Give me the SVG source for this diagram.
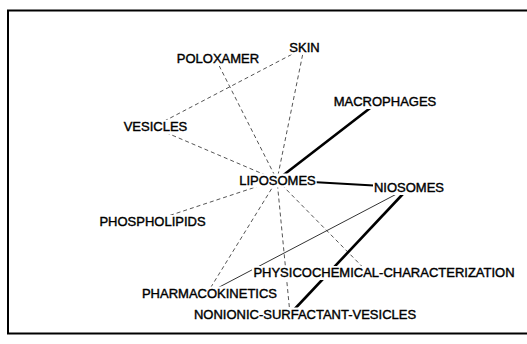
<svg xmlns="http://www.w3.org/2000/svg" width="527" height="344" viewBox="0 0 527 344">
  <style>
    .frame { fill: #ffffff; stroke: #000000; stroke-width: 2; }
    .weak { stroke: #555555; stroke-width: 1; stroke-dasharray: 4 3; fill: none; }
    .thin { stroke: #333333; stroke-width: 1; fill: none; }
    .strong { stroke: #000000; stroke-width: 2.6; fill: none; }
    .mid { stroke: #000000; stroke-width: 2; fill: none; }
    .bg { fill: #ffffff; }
    .lbl { font-family: "Liberation Sans", Arial, sans-serif; font-size: 13px; fill: #000000; stroke: #000000; stroke-width: 0.4; text-anchor: middle; }
  </style>

  <rect class="frame" x="8" y="10.5" width="530" height="323"/>

  <!-- co-occurrence links, drawn between node anchor points -->
  <g id="connectors">
    <line class="weak" x1="304" y1="48" x2="153" y2="127"/>
    <line class="weak" x1="304" y1="48" x2="277" y2="180"/>
    <line class="weak" x1="216" y1="59.5" x2="277" y2="180"/>
    <line class="weak" x1="153" y1="127" x2="277" y2="180"/>
    <line class="weak" x1="150" y1="222" x2="277" y2="180"/>
    <line class="weak" x1="207" y1="293.5" x2="277" y2="180"/>
    <line class="weak" x1="290" y1="314" x2="277" y2="180"/>
    <line class="weak" x1="368" y1="272.5" x2="277" y2="180"/>
    <line class="strong" x1="378" y1="102" x2="277" y2="180"/>
    <line class="mid" x1="277" y1="180" x2="409" y2="187.5"/>
    <line class="strong" x1="409" y1="187.5" x2="290" y2="314"/>
    <line class="thin" x1="409" y1="187.5" x2="207" y2="293.5"/>
  </g>

  <!-- keyword nodes: white label box over the links, then the label -->
  <g id="skin">
    <rect class="bg" x="288.3" y="40.5" width="32.3" height="14"/>
    <text class="lbl" x="304.5" y="51.5">SKIN</text>
  </g>
  <g id="poloxamer">
    <rect class="bg" x="175.8" y="52" width="84.4" height="14"/>
    <text class="lbl" x="218" y="63">POLOXAMER</text>
  </g>
  <g id="macrophages">
    <rect class="bg" x="332.7" y="95" width="104.5" height="14"/>
    <text class="lbl" x="385" y="106">MACROPHAGES</text>
  </g>
  <g id="vesicles">
    <rect class="bg" x="122.7" y="120" width="65.6" height="14"/>
    <text class="lbl" x="155.5" y="131">VESICLES</text>
  </g>
  <g id="liposomes">
    <rect class="bg" x="238.2" y="173.5" width="78.5" height="14"/>
    <text class="lbl" x="277.5" y="184.5">LIPOSOMES</text>
  </g>
  <g id="niosomes">
    <rect class="bg" x="373" y="181" width="72.1" height="14"/>
    <text class="lbl" x="409" y="192">NIOSOMES</text>
  </g>
  <g id="phospholipids">
    <rect class="bg" x="98.5" y="215" width="107.9" height="14"/>
    <text class="lbl" x="152.5" y="226">PHOSPHOLIPIDS</text>
  </g>
  <g id="physicochemical-characterization">
    <rect class="bg" x="251.9" y="266" width="264.2" height="14"/>
    <text class="lbl" x="384" y="277">PHYSICOCHEMICAL-CHARACTERIZATION</text>
  </g>
  <g id="pharmacokinetics">
    <rect class="bg" x="141" y="286.5" width="136.9" height="14"/>
    <text class="lbl" x="209.5" y="297.5">PHARMACOKINETICS</text>
  </g>
  <g id="nonionic-surfactant-vesicles">
    <rect class="bg" x="191.7" y="307.5" width="226.6" height="14"/>
    <text class="lbl" x="305" y="318.5">NONIONIC-SURFACTANT-VESICLES</text>
  </g>
</svg>
